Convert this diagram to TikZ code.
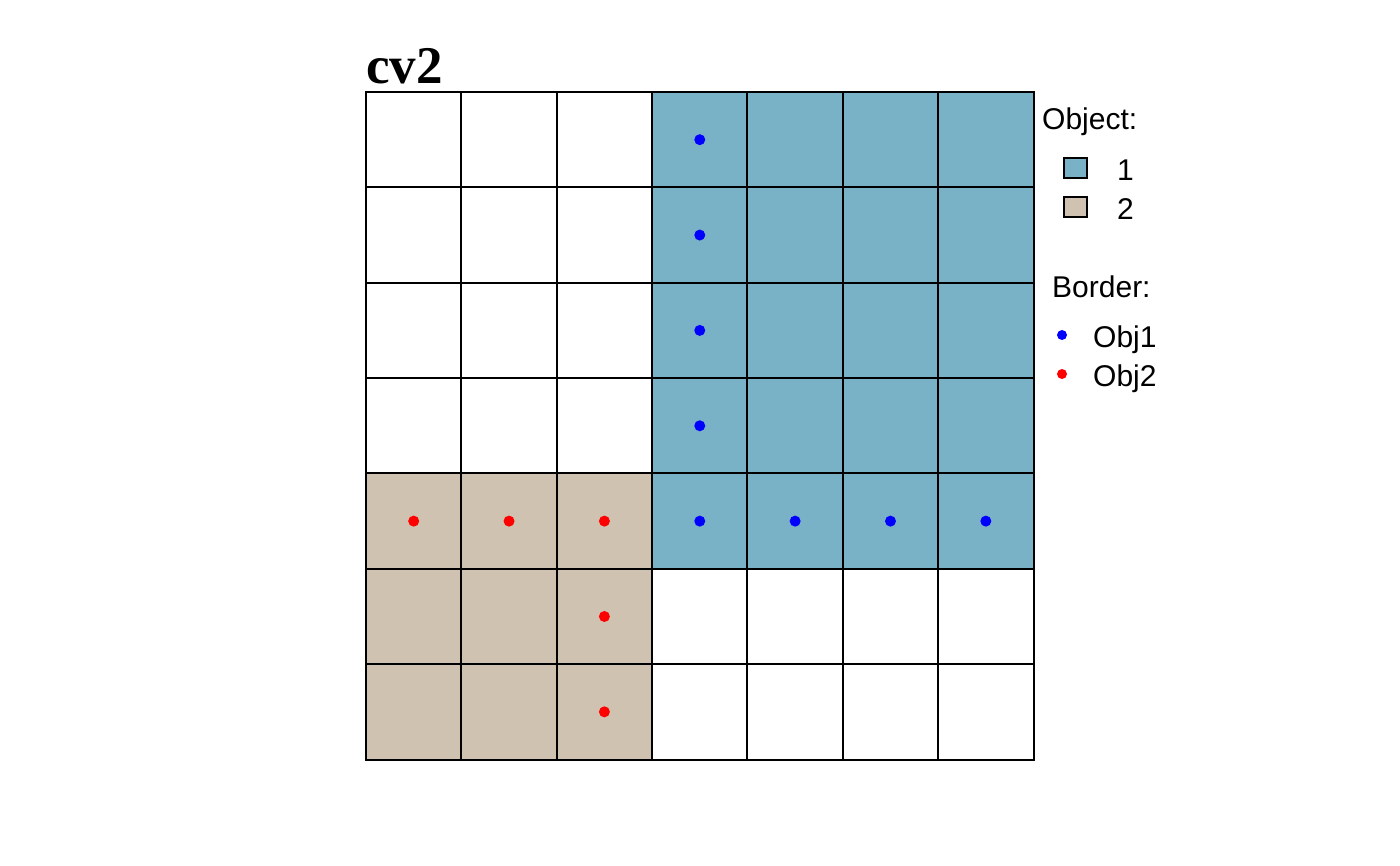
\documentclass[tikz,border=0pt]{standalone}
\usepackage{fontspec}
\setmainfont{Liberation Sans}
\newfontfamily\titlefont{Liberation Serif}
\definecolor{objone}{HTML}{79B1C6}
\definecolor{objtwo}{HTML}{CFC2B1}
\definecolor{dotblue}{HTML}{0000FF}
\definecolor{dotred}{HTML}{FF0000}
\begin{document}
\begin{tikzpicture}[x=1pt,y=-1pt,
  gridline/.style={draw=black,line width=2pt,line cap=rect},
  bdot/.style={fill=dotblue},
  rdot/.style={fill=dotred},
  legtxt/.style={font=\fontsize{30}{32}\selectfont,anchor=base west,inner sep=0pt},
  legbox/.style={draw=black,line width=1.6pt}]
\useasboundingbox (0,0) rectangle (1400,865);
\fill[white] (0,0) rectangle (1400,865);
\def\cw{95.36}
% filled regions
\fill[objone] (366+3*\cw,92) rectangle (366+7*\cw,92+5*\cw);
\fill[objtwo] (366,92+4*\cw) rectangle (366+3*\cw,92+7*\cw);
% grid
\foreach \i in {0,...,7}{
  \draw[gridline] (366+\i*\cw,92) -- (366+\i*\cw,92+7*\cw);
  \draw[gridline] (366,92+\i*\cw) -- (366+7*\cw,92+\i*\cw);
}
% border dots
\foreach \c/\r in {3/0,3/1,3/2,3/3,3/4,4/4,5/4,6/4}
  \fill[bdot] (366+\c*\cw+\cw/2,92+\r*\cw+\cw/2) circle (5.5);
\foreach \c/\r in {0/4,1/4,2/4,2/5,2/6}
  \fill[rdot] (366+\c*\cw+\cw/2,92+\r*\cw+\cw/2) circle (5.5);
% title
\node[anchor=base west,inner sep=0pt,font=\titlefont\bfseries\fontsize{53}{56}\selectfont] (title) at (366,83) {cv2};
% legend
\node[legtxt] (objlab) at (1042,129) {Object:};
\draw[legbox,fill=objone] (1064,158) rectangle (1087,178);
\node[legtxt] (one) at (1117,180) {1};
\draw[legbox,fill=objtwo] (1064,197) rectangle (1087,217);
\node[legtxt] (two) at (1117,219) {2};
\node[legtxt] (bordlab) at (1052,297) {Border:};
\fill[bdot] (1062,335) circle (5);
\node[legtxt] (obja) at (1093,347) {Obj1};
\fill[rdot] (1062,374) circle (5);
\node[legtxt] (objb) at (1093,386) {Obj2};
\end{tikzpicture}
\end{document}
